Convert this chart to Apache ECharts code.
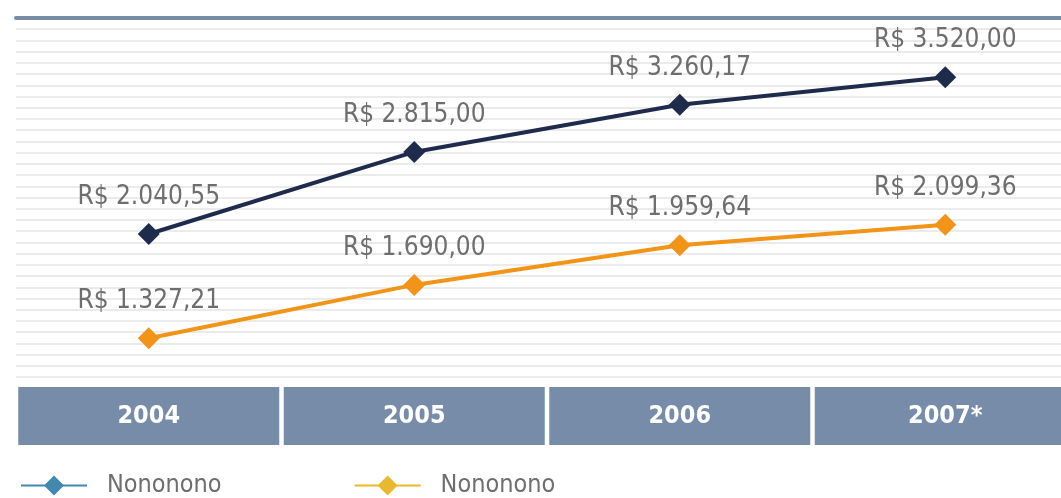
<!DOCTYPE html>
<html>
<head>
<meta charset="utf-8">
<script src="https://cdn.jsdelivr.net/npm/echarts@6/dist/echarts.min.js"></script>
<style>
html, body { margin: 0; padding: 0; background: #fff; }
#chart { width: 1061px; height: 498px; }
</style>
</head>
<body>
<div id="chart"></div>
<script>
// data
var years = ['2004', '2005', '2006', '2007*'];
var serieA = [2040.55, 2815.00, 3260.17, 3520.00];
var serieB = [1327.21, 1690.00, 1959.64, 2099.36];
var legendNames = ['Nononono', 'Nononono'];

var FONT = '"Liberation Sans Narrow", "DejaVu Sans Condensed", sans-serif';

function reais(v) {
    var parts = v.toFixed(2).split('.');
    var int = parts[0].replace(/\B(?=(\d{3})+(?!\d))/g, '.');
    return 'R$ ' + int + ',' + parts[1];
}

var myChart = echarts.init(document.getElementById('chart'));

var labelStyle = {
    show: true,
    position: 'top',
    distance: 13,
    fontFamily: FONT,
    fontSize: 26,
    color: '#6e6e6e',
    formatter: function (p) { return reais(p.value); }
};

var option = {
    animation: false,
    // the original picture is cut on the right, so the grid runs past the edge
    grid: { left: 16, width: 1062, top: 18, height: 359, outerBoundsMode: 'none', containLabel: false },
    legend: {
        left: 20,
        top: 473,
        padding: 0,
        itemWidth: 66,
        itemHeight: 25,
        itemGap: 132,
        lineStyle: { width: 2 },
        textStyle: { fontFamily: FONT, fontSize: 25, color: '#6e6e6e', padding: [0, 0, 0, 15] },
        formatter: function (name) {
            return name === 'serieA' ? legendNames[0] : legendNames[1];
        },
        data: [
            { name: 'serieA', itemStyle: { color: '#4189b1' }, lineStyle: { color: '#4189b1' } },
            { name: 'serieB', itemStyle: { color: '#e8b92f' }, lineStyle: { color: '#e8b92f' } }
        ]
    },
    xAxis: [
        {
            type: 'category',
            data: years,
            position: 'top',
            axisLine: { onZero: false, lineStyle: { color: '#778ca8', width: 4 } },
            axisTick: { show: false },
            axisLabel: { show: false }
        },
        {
            type: 'category',
            data: years,
            position: 'bottom',
            axisLine: { show: false, onZero: false },
            axisTick: { show: false },
            axisLabel: {
                interval: 0,
                margin: 10,
                width: 261,
                height: 58,
                lineHeight: 58,
                align: 'center',
                backgroundColor: '#778ca8',
                color: '#fff',
                fontFamily: FONT,
                fontWeight: 'bold',
                fontSize: 25
            }
        }
    ],
    yAxis: [
        { type: 'value', show: false, min: 690, max: 4080 },
        { type: 'value', show: false, min: 1063, max: 3507 },
        {
            type: 'value',
            min: 0,
            max: 32,
            interval: 1,
            axisLine: { show: false },
            axisTick: { show: false },
            axisLabel: { show: false },
            splitLine: { lineStyle: { color: '#ebebeb', width: 2 } }
        }
    ],
    series: [
        {
            name: 'serieA',
            type: 'line',
            yAxisIndex: 0,
            data: serieA,
            symbol: 'diamond',
            symbolSize: 22,
            lineStyle: { color: '#1f2b4a', width: 4 },
            itemStyle: { color: '#1f2b4a' },
            label: labelStyle,
            z: 3
        },
        {
            name: 'serieB',
            type: 'line',
            yAxisIndex: 1,
            data: serieB,
            symbol: 'diamond',
            symbolSize: 22,
            lineStyle: { color: '#f29418', width: 4 },
            itemStyle: { color: '#f29418' },
            label: labelStyle,
            z: 3
        }
    ]
};

myChart.setOption(option);
</script>
</body>
</html>
